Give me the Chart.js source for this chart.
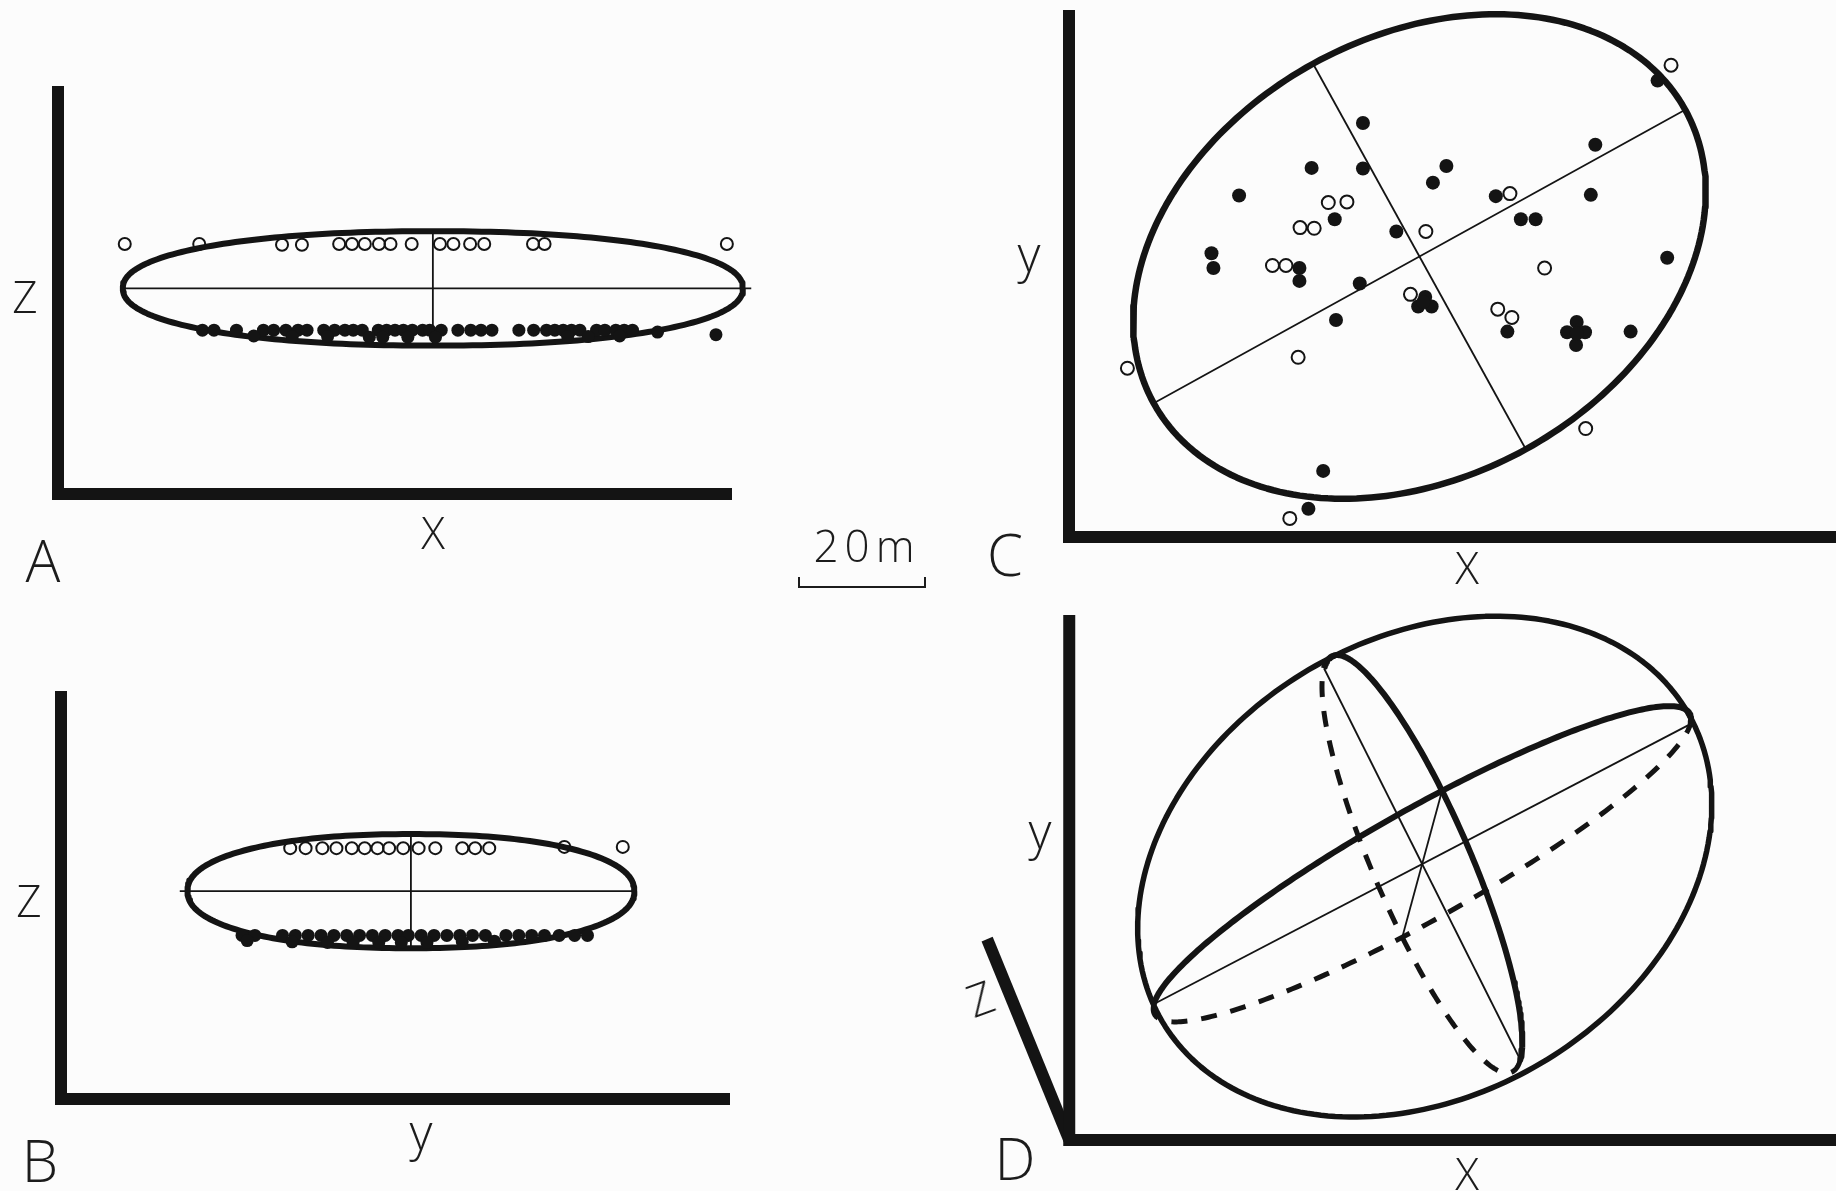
<!DOCTYPE html>
<html>
<head>
<meta charset="utf-8">
<script src="https://cdn.jsdelivr.net/npm/chart.js@4.4.1/dist/chart.umd.min.js"></script>
<style>
  html, body { margin: 0; padding: 0; background: #fcfcfc; overflow: hidden; }
  #page { position: relative; width: 1836px; height: 1191px; overflow: hidden; }
  canvas { position: absolute; }
  .lbl {
    position: absolute;
    font-family: "Open Sans", "DejaVu Sans", sans-serif;
    font-weight: 300;
    color: #1c1c1c;
    line-height: 1;
    white-space: nowrap;
    transform: translate(-50%, -50%);
  }
  .scalebar { position: absolute; border: 2px solid #1c1c1c; border-top: none; box-sizing: border-box; }
</style>
</head>
<body>
<div id="page">
  <canvas id="chartA"></canvas>
  <canvas id="chartB"></canvas>
  <canvas id="chartC"></canvas>
  <canvas id="chartD"></canvas>

  <div class="lbl" style="left:25px; top:296px; font-size:44px">Z</div>
  <div class="lbl" style="left:433px; top:532px; font-size:44px">X</div>
  <div class="lbl" style="left:43px; top:560px; font-size:58px">A</div>

  <div class="lbl" style="left:29px; top:900px; font-size:44px">Z</div>
  <div class="lbl" style="left:421px; top:1131px; font-size:50px">y</div>
  <div class="lbl" style="left:40px; top:1160px; font-size:58px">B</div>

  <div class="lbl" style="left:1029px; top:253px; font-size:50px">y</div>
  <div class="lbl" style="left:1467px; top:567px; font-size:44px">X</div>
  <div class="lbl" style="left:1005px; top:554px; font-size:58px">C</div>

  <div class="lbl" style="left:1040px; top:830px; font-size:50px">y</div>
  <div class="lbl" style="left:980px; top:998px; font-size:44px; transform:translate(-50%,-50%) rotate(-20deg)">Z</div>
  <div class="lbl" style="left:1467px; top:1173px; font-size:44px">X</div>
  <div class="lbl" style="left:1015px; top:1158px; font-size:58px">D</div>

  <div class="lbl" style="left:867px; top:545px; font-size:44px; letter-spacing:6px">20m</div>
  <div class="scalebar" id="scalebar"></div>
</div>

<script>
const PX_PER_M = 6.42
const PAD = 24
const INK = "#141414"

// Panel A – x/z section (metres from the axis corner)
const aAxis = [105, 63.5]
const aEllipse = [58.4, 32.0, 48.3, 8.9] // centre x, centre z, half length, half height
const aOpenX = [10.4, 22.0, 34.9, 38.0, 43.8, 45.8, 47.8, 50.0, 51.8, 55.1, 59.5, 61.6, 64.2, 66.4, 74.0, 75.8, 104.2]
const aOpenZ = [38.9, 38.9, 38.8, 38.8, 38.9, 38.9, 38.9, 38.9, 38.9, 38.9, 38.9, 38.9, 38.9, 38.9, 38.9, 38.9, 38.9]
const aFilledX = [22.5, 24.3, 27.8, 32.0, 33.6, 35.5, 37.4, 38.8, 41.4, 43.1, 44.7, 46.0, 47.4, 49.9, 51.2, 52.5,
  53.8, 55.2, 56.8, 57.9, 59.7, 62.3, 64.3, 65.9, 67.6, 71.8, 74.1, 76.1, 77.4, 78.7, 80.0, 81.3, 83.9, 85.2,
  86.9, 88.2, 89.5, 93.4, 102.5, 30.5, 36.5, 42.0, 48.5, 50.6, 54.5, 58.8, 79.4, 82.6, 87.5]
const aFilledZ = [25.5, 25.5, 25.5, 25.5, 25.5, 25.5, 25.5, 25.5, 25.5, 25.5, 25.5, 25.5, 25.5, 25.5, 25.5, 25.5,
  25.5, 25.5, 25.5, 25.5, 25.5, 25.5, 25.5, 25.5, 25.5, 25.5, 25.5, 25.5, 25.5, 25.5, 25.5, 25.5, 25.5, 25.5,
  25.5, 25.5, 25.5, 25.2, 24.8, 24.6, 24.5, 24.5, 24.4, 24.4, 24.4, 24.4, 24.5, 24.5, 24.6]

// Panel B – y/z section
const bAxis = [104.2, 63.6]
const bEllipse = [54.5, 32.4, 34.8, 8.9]
const bOpenY = [35.7, 38.1, 40.7, 42.9, 45.3, 47.3, 49.3, 51.1, 53.3, 55.7, 58.3, 62.5, 64.5, 66.7, 78.4, 87.5]
const bOpenZ = [39.1, 39.1, 39.1, 39.1, 39.1, 39.1, 39.1, 39.1, 39.1, 39.1, 39.1, 39.1, 39.1, 39.1, 39.3, 39.3]
const bFilledY = [28.2, 30.2, 34.5, 36.5, 38.5, 40.5, 42.5, 44.5, 46.5, 48.5, 50.5, 52.5, 54.1, 56.1, 58.1, 60.1,
  62.1, 64.1, 66.1, 69.3, 71.3, 73.3, 75.3, 77.6, 80.0, 82.0, 29.0, 36.0, 41.5, 45.5, 49.5, 53.0, 57.0, 62.5, 67.5]
const bFilledZ = [25.5, 25.5, 25.5, 25.5, 25.5, 25.5, 25.5, 25.5, 25.5, 25.5, 25.5, 25.5, 25.5, 25.5, 25.5, 25.5,
  25.5, 25.5, 25.5, 25.5, 25.5, 25.5, 25.5, 25.5, 25.5, 25.5, 24.7, 24.5, 24.4, 24.4, 24.4, 24.4, 24.4, 24.5, 24.6]

// Panel C – x/y plan
const cAxis = [119.5, 82.1]
const cEllipse = [54.6, 43.7, 47.3, 34.3, 28.9] // centre x, centre y, half major, half minor, tilt (deg)
const cFilledX = [91.7, 45.8, 82.0, 37.8, 45.8, 58.8, 56.7, 26.5, 66.5, 81.3, 41.4, 70.4, 72.7, 51.0, 22.2, 22.5,
  35.9, 35.9, 45.3, 93.2, 55.5, 54.4, 56.5, 55.2, 41.6, 68.3, 79.1, 77.6, 80.4, 79.0, 79.1, 87.5, 39.6, 37.3]
const cFilledY = [71.1, 64.5, 61.1, 57.5, 57.4, 57.8, 55.2, 53.2, 53.1, 53.3, 49.5, 49.5, 49.5, 47.6, 44.2, 41.9,
  41.9, 39.9, 39.5, 43.5, 37.4, 35.9, 35.9, 36.6, 33.8, 32.0, 33.5, 31.9, 31.9, 29.9, 31.7, 32.0, 10.3, 4.4]
const cOpenX = [93.8, 68.7, 40.4, 43.3, 36.0, 38.2, 31.7, 33.8, 55.6, 74.1, 53.2, 66.8, 69.0, 35.7, 9.1, 80.5, 34.4]
const cOpenY = [73.5, 53.5, 52.1, 52.2, 48.2, 48.1, 42.3, 42.3, 47.6, 41.9, 37.8, 35.5, 34.2, 28.0, 26.3, 16.9, 2.9]

// Panel D – ellipsoid in oblique view
const dAxis = [119.5, 81.8]
const dZAxis = [-12.8, 31.3]
const dCentre = [55.0, 43.0]
const dMajor = [41.8, 21.8] // projected semi-axes
const dMinor = [-15.3, 30.5]
const dDepth = [3.1, 11.4]
const dOutline = [55.4, 42.6, 47.5, 35.6, 30.5] // centre x, centre y, half major, half minor, tilt (deg)

const scaleBarM = 20

// canvas placement: axis corner in page pixels
const ORIGIN = { A: [58, 494], B: [61, 1099], C: [1069, 537], D: [1069, 1140] }

function arc(c, u, v, t0, t1, n = 160) {
  const pts = []
  for (let i = 0; i <= n; i++) {
    const t = t0 + ((t1 - t0) * i) / n
    pts.push({
      x: c[0] + u[0] * Math.cos(t) + v[0] * Math.sin(t),
      y: c[1] + u[1] * Math.cos(t) + v[1] * Math.sin(t),
    })
  }
  return pts
}

// hand-drawn sections are a little fuller than a true ellipse
function lens(cx, cy, a, b, p = 2.2, n = 240) {
  const pts = []
  const e = 2 / p
  for (let i = 0; i <= n; i++) {
    const t = (2 * Math.PI * i) / n
    const c = Math.cos(t)
    const s = Math.sin(t)
    pts.push({ x: cx + a * Math.sign(c) * Math.abs(c) ** e, y: cy + b * Math.sign(s) * Math.abs(s) ** e })
  }
  return pts
}

function tilted(p) {
  const [cx, cy, a, b, tilt] = p
  const th = (tilt * Math.PI) / 180
  return { c: [cx, cy], u: [a * Math.cos(th), a * Math.sin(th)], v: [-b * Math.sin(th), b * Math.cos(th)] }
}

const pts = (xs, ys) => xs.map((x, i) => ({ x, y: ys[i] }))

const line = (data, width, extra = {}) => ({
  data,
  showLine: true,
  borderColor: INK,
  borderWidth: width,
  pointRadius: 0,
  pointHoverRadius: 0,
  tension: 0,
  fill: false,
  clip: false,
  borderJoinStyle: "round",
  order: 2,
  ...extra,
})

const dots = (xs, ys, filled, r) => ({
  data: pts(xs, ys),
  showLine: false,
  pointRadius: r,
  pointHoverRadius: r,
  pointBorderWidth: filled ? 0 : 2,
  pointBackgroundColor: filled ? INK : "rgba(0,0,0,0)",
  pointBorderColor: INK,
  clip: false,
  order: filled ? 1 : 0,
})

const axes = (data) => line(data, 12, { borderJoinStyle: "miter", borderCapStyle: "butt", order: 3 })

function makePanel(id, origin, xr, yr, datasets) {
  const cv = document.getElementById(id)
  const w = Math.round((xr[1] - xr[0]) * PX_PER_M) + 2 * PAD
  const h = Math.round((yr[1] - yr[0]) * PX_PER_M) + 2 * PAD
  cv.width = w
  cv.height = h
  cv.style.width = w + "px"
  cv.style.height = h + "px"
  cv.style.left = origin[0] + xr[0] * PX_PER_M - PAD + "px"
  cv.style.top = origin[1] - yr[1] * PX_PER_M - PAD + "px"
  return new Chart(cv, {
    type: "scatter",
    data: { datasets },
    options: {
      responsive: false,
      animation: false,
      devicePixelRatio: 1,
      events: [],
      layout: { padding: PAD },
      plugins: { legend: { display: false }, tooltip: { enabled: false } },
      scales: {
        x: { type: "linear", min: xr[0], max: xr[1], display: false },
        y: { type: "linear", min: yr[0], max: yr[1], display: false },
      },
    },
  })
}

// A
{
  const [cx, cz, a, b] = aEllipse
  makePanel("chartA", ORIGIN.A, [0, aAxis[0]], [0, aAxis[1]], [
    dots(aOpenX, aOpenZ, false, 6),
    dots(aFilledX, aFilledZ, true, 6.5),
    line(lens(cx, cz, a, b), 6),
    line([{ x: cx - a, y: cz }, { x: cx + a + 1.3, y: cz }], 1.8),
    line([{ x: cx, y: cz + b }, { x: cx, y: cz - b }], 1.8),
    axes([{ x: 0, y: aAxis[1] }, { x: 0, y: 0 }, { x: aAxis[0], y: 0 }]),
  ])
}

// B
{
  const [cy, cz, a, b] = bEllipse
  makePanel("chartB", ORIGIN.B, [0, bAxis[0]], [0, bAxis[1]], [
    dots(bOpenY, bOpenZ, false, 6),
    dots(bFilledY, bFilledZ, true, 6.5),
    line(lens(cy, cz, a, b), 6),
    line([{ x: cy - a - 1.2, y: cz }, { x: cy + a, y: cz }], 1.8),
    line([{ x: cy, y: cz + b }, { x: cy, y: cz - b }], 1.8),
    axes([{ x: 0, y: bAxis[1] }, { x: 0, y: 0 }, { x: bAxis[0], y: 0 }]),
  ])
}

// C
{
  const { c, u, v } = tilted(cEllipse)
  makePanel("chartC", ORIGIN.C, [0, cAxis[0]], [0, cAxis[1]], [
    dots(cOpenX, cOpenY, false, 6.5),
    dots(cFilledX, cFilledY, true, 7),
    line(arc(c, u, v, 0, 2 * Math.PI, 240), 6.5),
    line([{ x: c[0] - u[0], y: c[1] - u[1] }, { x: c[0] + u[0], y: c[1] + u[1] }], 1.8),
    line([{ x: c[0] - v[0], y: c[1] - v[1] }, { x: c[0] + v[0], y: c[1] + v[1] }], 1.8),
    axes([{ x: 0, y: cAxis[1] }, { x: 0, y: 0 }, { x: cAxis[0], y: 0 }]),
  ])
}

// D
{
  const c = dCentre
  const A = dMajor
  const B = dMinor
  const Z = dDepth
  const o = tilted(dOutline)
  const dash = { borderDash: [16, 14], borderCapStyle: "butt" }
  makePanel("chartD", ORIGIN.D, [-15, dAxis[0]], [0, dAxis[1]], [
    line(arc(o.c, o.u, o.v, 0, 2 * Math.PI, 240), 5.5),
    line(arc(c, A, Z, 0, Math.PI), 6),
    line(arc(c, B, Z, 0, Math.PI), 6),
    line(arc(c, A, Z, Math.PI, 2 * Math.PI), 5, dash),
    line(arc(c, B, Z, Math.PI, 2 * Math.PI), 5, dash),
    line([{ x: c[0] - A[0], y: c[1] - A[1] }, { x: c[0] + A[0], y: c[1] + A[1] }], 1.8),
    line([{ x: c[0] - B[0], y: c[1] - B[1] }, { x: c[0] + B[0], y: c[1] + B[1] }], 1.8),
    line([{ x: c[0] - Z[0], y: c[1] - Z[1] }, { x: c[0] + Z[0], y: c[1] + Z[1] }], 1.8),
    axes([{ x: 0, y: dAxis[1] }, { x: 0, y: 0 }, { x: dAxis[0], y: 0 }]),
    axes([{ x: 0, y: 0 }, { x: dZAxis[0], y: dZAxis[1] }]),
  ])
}

// 20 m scale bar
const bar = document.getElementById("scalebar")
bar.style.left = "798px"
bar.style.top = "577px"
bar.style.width = Math.round(scaleBarM * PX_PER_M) + "px"
bar.style.height = "11px"
</script>
</body>
</html>
